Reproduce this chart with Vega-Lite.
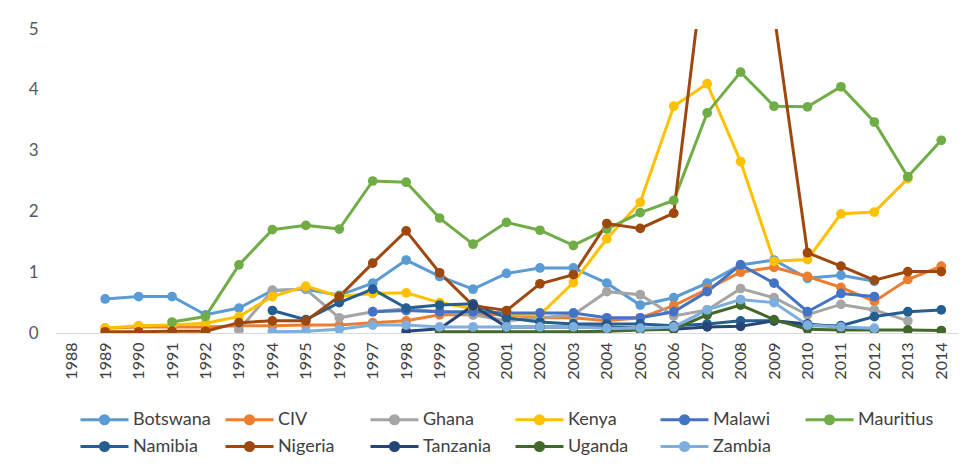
{
  "$schema": "https://vega.github.io/schema/vega-lite/v6.json",
  "width": 903,
  "height": 304,
  "autosize": {"type": "none"},
  "padding": {"left": 55, "top": 29, "right": 14, "bottom": 136},
  "background": "white",
  "config": {
    "view": {"stroke": null},
    "font": "Lato"
  },
  "data": {
    "values": [
      {"c":"Botswana","y":1989,"v":0.56},{"c":"Botswana","y":1990,"v":0.6},{"c":"Botswana","y":1991,"v":0.6},{"c":"Botswana","y":1992,"v":0.3},{"c":"Botswana","y":1993,"v":0.41},{"c":"Botswana","y":1994,"v":0.7},{"c":"Botswana","y":1995,"v":0.72},{"c":"Botswana","y":1996,"v":0.62},{"c":"Botswana","y":1997,"v":0.82},{"c":"Botswana","y":1998,"v":1.2},{"c":"Botswana","y":1999,"v":0.93},{"c":"Botswana","y":2000,"v":0.72},{"c":"Botswana","y":2001,"v":0.98},{"c":"Botswana","y":2002,"v":1.07},{"c":"Botswana","y":2003,"v":1.07},{"c":"Botswana","y":2004,"v":0.82},{"c":"Botswana","y":2005,"v":0.46},{"c":"Botswana","y":2006,"v":0.58},{"c":"Botswana","y":2007,"v":0.82},{"c":"Botswana","y":2008,"v":1.12},{"c":"Botswana","y":2009,"v":1.2},{"c":"Botswana","y":2010,"v":0.9},{"c":"Botswana","y":2011,"v":0.95},{"c":"Botswana","y":2012,"v":0.85},
      {"c":"CIV","y":1989,"v":0.08},{"c":"CIV","y":1990,"v":0.1},{"c":"CIV","y":1991,"v":0.1},{"c":"CIV","y":1992,"v":0.1},{"c":"CIV","y":1993,"v":0.12},{"c":"CIV","y":1994,"v":0.12},{"c":"CIV","y":1995,"v":0.13},{"c":"CIV","y":1996,"v":0.13},{"c":"CIV","y":1997,"v":0.17},{"c":"CIV","y":1998,"v":0.2},{"c":"CIV","y":1999,"v":0.3},{"c":"CIV","y":2000,"v":0.3},{"c":"CIV","y":2001,"v":0.3},{"c":"CIV","y":2002,"v":0.25},{"c":"CIV","y":2003,"v":0.25},{"c":"CIV","y":2004,"v":0.2},{"c":"CIV","y":2005,"v":0.25},{"c":"CIV","y":2006,"v":0.45},{"c":"CIV","y":2007,"v":0.72},{"c":"CIV","y":2008,"v":1.0},{"c":"CIV","y":2009,"v":1.08},{"c":"CIV","y":2010,"v":0.93},{"c":"CIV","y":2011,"v":0.75},{"c":"CIV","y":2012,"v":0.52},{"c":"CIV","y":2013,"v":0.88},{"c":"CIV","y":2014,"v":1.1},
      {"c":"Ghana","y":1993,"v":0.05},{"c":"Ghana","y":1994,"v":0.7},{"c":"Ghana","y":1995,"v":0.72},{"c":"Ghana","y":1996,"v":0.25},{"c":"Ghana","y":1997,"v":0.35},{"c":"Ghana","y":1998,"v":0.4},{"c":"Ghana","y":1999,"v":0.35},{"c":"Ghana","y":2000,"v":0.3},{"c":"Ghana","y":2001,"v":0.2},{"c":"Ghana","y":2002,"v":0.25},{"c":"Ghana","y":2003,"v":0.3},{"c":"Ghana","y":2004,"v":0.68},{"c":"Ghana","y":2005,"v":0.63},{"c":"Ghana","y":2006,"v":0.28},{"c":"Ghana","y":2007,"v":0.38},{"c":"Ghana","y":2008,"v":0.73},{"c":"Ghana","y":2009,"v":0.58},{"c":"Ghana","y":2010,"v":0.3},{"c":"Ghana","y":2011,"v":0.47},{"c":"Ghana","y":2012,"v":0.38},{"c":"Ghana","y":2013,"v":0.2},
      {"c":"Kenya","y":1989,"v":0.08},{"c":"Kenya","y":1990,"v":0.12},{"c":"Kenya","y":1991,"v":0.13},{"c":"Kenya","y":1992,"v":0.16},{"c":"Kenya","y":1993,"v":0.27},{"c":"Kenya","y":1994,"v":0.6},{"c":"Kenya","y":1995,"v":0.77},{"c":"Kenya","y":1996,"v":0.6},{"c":"Kenya","y":1997,"v":0.65},{"c":"Kenya","y":1998,"v":0.66},{"c":"Kenya","y":1999,"v":0.5},{"c":"Kenya","y":2000,"v":0.4},{"c":"Kenya","y":2001,"v":0.3},{"c":"Kenya","y":2002,"v":0.3},{"c":"Kenya","y":2003,"v":0.83},{"c":"Kenya","y":2004,"v":1.55},{"c":"Kenya","y":2005,"v":2.15},{"c":"Kenya","y":2006,"v":3.73},{"c":"Kenya","y":2007,"v":4.1},{"c":"Kenya","y":2008,"v":2.82},{"c":"Kenya","y":2009,"v":1.18},{"c":"Kenya","y":2010,"v":1.21},{"c":"Kenya","y":2011,"v":1.96},{"c":"Kenya","y":2012,"v":1.99},{"c":"Kenya","y":2013,"v":2.54},
      {"c":"Malawi","y":1997,"v":0.35},{"c":"Malawi","y":1998,"v":0.37},{"c":"Malawi","y":1999,"v":0.35},{"c":"Malawi","y":2000,"v":0.35},{"c":"Malawi","y":2001,"v":0.33},{"c":"Malawi","y":2002,"v":0.33},{"c":"Malawi","y":2003,"v":0.33},{"c":"Malawi","y":2004,"v":0.25},{"c":"Malawi","y":2005,"v":0.25},{"c":"Malawi","y":2006,"v":0.35},{"c":"Malawi","y":2007,"v":0.68},{"c":"Malawi","y":2008,"v":1.12},{"c":"Malawi","y":2009,"v":0.82},{"c":"Malawi","y":2010,"v":0.35},{"c":"Malawi","y":2011,"v":0.65},{"c":"Malawi","y":2012,"v":0.6},
      {"c":"Mauritius","y":1991,"v":0.18},{"c":"Mauritius","y":1992,"v":0.27},{"c":"Mauritius","y":1993,"v":1.12},{"c":"Mauritius","y":1994,"v":1.7},{"c":"Mauritius","y":1995,"v":1.77},{"c":"Mauritius","y":1996,"v":1.71},{"c":"Mauritius","y":1997,"v":2.5},{"c":"Mauritius","y":1998,"v":2.48},{"c":"Mauritius","y":1999,"v":1.89},{"c":"Mauritius","y":2000,"v":1.46},{"c":"Mauritius","y":2001,"v":1.82},{"c":"Mauritius","y":2002,"v":1.69},{"c":"Mauritius","y":2003,"v":1.44},{"c":"Mauritius","y":2004,"v":1.71},{"c":"Mauritius","y":2005,"v":1.98},{"c":"Mauritius","y":2006,"v":2.18},{"c":"Mauritius","y":2007,"v":3.62},{"c":"Mauritius","y":2008,"v":4.29},{"c":"Mauritius","y":2009,"v":3.73},{"c":"Mauritius","y":2010,"v":3.72},{"c":"Mauritius","y":2011,"v":4.05},{"c":"Mauritius","y":2012,"v":3.47},{"c":"Mauritius","y":2013,"v":2.57},{"c":"Mauritius","y":2014,"v":3.17},
      {"c":"Namibia","y":1994,"v":0.37},{"c":"Namibia","y":1995,"v":0.22},{"c":"Namibia","y":1996,"v":0.5},{"c":"Namibia","y":1997,"v":0.72},{"c":"Namibia","y":1998,"v":0.41},{"c":"Namibia","y":1999,"v":0.46},{"c":"Namibia","y":2000,"v":0.48},{"c":"Namibia","y":2001,"v":0.25},{"c":"Namibia","y":2002,"v":0.18},{"c":"Namibia","y":2003,"v":0.15},{"c":"Namibia","y":2004,"v":0.15},{"c":"Namibia","y":2005,"v":0.15},{"c":"Namibia","y":2006,"v":0.12},{"c":"Namibia","y":2007,"v":0.15},{"c":"Namibia","y":2008,"v":0.2},{"c":"Namibia","y":2009,"v":0.2},{"c":"Namibia","y":2010,"v":0.12},{"c":"Namibia","y":2011,"v":0.12},{"c":"Namibia","y":2012,"v":0.27},{"c":"Namibia","y":2013,"v":0.35},{"c":"Namibia","y":2014,"v":0.38},
      {"c":"Nigeria","y":1989,"v":0.02},{"c":"Nigeria","y":1990,"v":0.02},{"c":"Nigeria","y":1991,"v":0.03},{"c":"Nigeria","y":1992,"v":0.03},{"c":"Nigeria","y":1993,"v":0.17},{"c":"Nigeria","y":1994,"v":0.2},{"c":"Nigeria","y":1995,"v":0.2},{"c":"Nigeria","y":1996,"v":0.6},{"c":"Nigeria","y":1997,"v":1.15},{"c":"Nigeria","y":1998,"v":1.68},{"c":"Nigeria","y":1999,"v":0.99},{"c":"Nigeria","y":2000,"v":0.45},{"c":"Nigeria","y":2001,"v":0.37},{"c":"Nigeria","y":2002,"v":0.81},{"c":"Nigeria","y":2003,"v":0.96},{"c":"Nigeria","y":2004,"v":1.8},{"c":"Nigeria","y":2005,"v":1.72},{"c":"Nigeria","y":2006,"v":1.97},{"c":"Nigeria","y":2007,"v":6.5},{"c":"Nigeria","y":2008,"v":9.0},{"c":"Nigeria","y":2009,"v":5.25},{"c":"Nigeria","y":2010,"v":1.32},{"c":"Nigeria","y":2011,"v":1.1},{"c":"Nigeria","y":2012,"v":0.87},{"c":"Nigeria","y":2013,"v":1.01},{"c":"Nigeria","y":2014,"v":1.01},
      {"c":"Tanzania","y":1998,"v":0.03},{"c":"Tanzania","y":1999,"v":0.07},{"c":"Tanzania","y":2000,"v":0.45},{"c":"Tanzania","y":2001,"v":0.1},{"c":"Tanzania","y":2002,"v":0.1},{"c":"Tanzania","y":2003,"v":0.1},{"c":"Tanzania","y":2004,"v":0.1},{"c":"Tanzania","y":2005,"v":0.08},{"c":"Tanzania","y":2006,"v":0.06},{"c":"Tanzania","y":2007,"v":0.1},{"c":"Tanzania","y":2008,"v":0.11},{"c":"Tanzania","y":2009,"v":0.2},{"c":"Tanzania","y":2010,"v":0.15},{"c":"Tanzania","y":2011,"v":0.1},
      {"c":"Uganda","y":1999,"v":0.02},{"c":"Uganda","y":2000,"v":0.02},{"c":"Uganda","y":2001,"v":0.02},{"c":"Uganda","y":2002,"v":0.02},{"c":"Uganda","y":2003,"v":0.02},{"c":"Uganda","y":2004,"v":0.03},{"c":"Uganda","y":2005,"v":0.05},{"c":"Uganda","y":2006,"v":0.06},{"c":"Uganda","y":2007,"v":0.3},{"c":"Uganda","y":2008,"v":0.46},{"c":"Uganda","y":2009,"v":0.22},{"c":"Uganda","y":2010,"v":0.06},{"c":"Uganda","y":2011,"v":0.05},{"c":"Uganda","y":2012,"v":0.05},{"c":"Uganda","y":2013,"v":0.05},{"c":"Uganda","y":2014,"v":0.04},
      {"c":"Zambia","y":1994,"v":0.02},{"c":"Zambia","y":1995,"v":0.03},{"c":"Zambia","y":1996,"v":0.06},{"c":"Zambia","y":1997,"v":0.13},{"c":"Zambia","y":1998,"v":0.13},{"c":"Zambia","y":1999,"v":0.1},{"c":"Zambia","y":2000,"v":0.1},{"c":"Zambia","y":2001,"v":0.1},{"c":"Zambia","y":2002,"v":0.1},{"c":"Zambia","y":2003,"v":0.1},{"c":"Zambia","y":2004,"v":0.08},{"c":"Zambia","y":2005,"v":0.08},{"c":"Zambia","y":2006,"v":0.1},{"c":"Zambia","y":2007,"v":0.38},{"c":"Zambia","y":2008,"v":0.55},{"c":"Zambia","y":2009,"v":0.5},{"c":"Zambia","y":2010,"v":0.13},{"c":"Zambia","y":2011,"v":0.1},{"c":"Zambia","y":2012,"v":0.08}
    ]
  },
  "mark": {"type": "line", "strokeWidth": 3, "clip": true, "point": {"filled": true, "size": 95, "opacity": 1}},
  "encoding": {
    "x": {
      "field": "y", "type": "ordinal",
      "scale": {"type": "point", "padding": 0.5, "domain": [1988,1989,1990,1991,1992,1993,1994,1995,1996,1997,1998,1999,2000,2001,2002,2003,2004,2005,2006,2007,2008,2009,2010,2011,2012,2013,2014]},
      "axis": {"title": null, "labelAngle": -90, "labelFontSize": 16, "labelColor": "#404040", "ticks": false, "labelPadding": 9, "domainColor": "#d9d9d9", "domainWidth": 1, "grid": false}
    },
    "y": {
      "field": "v", "type": "quantitative",
      "scale": {"domain": [0, 5], "nice": false, "zero": true},
      "axis": {"title": null, "values": [0,1,2,3,4,5], "domain": false, "ticks": false, "grid": false, "labelFontSize": 17, "labelColor": "#595959", "labelPadding": 17}
    },
    "color": {
      "field": "c", "type": "nominal",
      "scale": {
        "domain": ["Botswana","CIV","Ghana","Kenya","Malawi","Mauritius","Namibia","Nigeria","Tanzania","Uganda","Zambia"],
        "range": ["#5B9BD5","#ED7D31","#A5A5A5","#FFC000","#4472C4","#70AD47","#255E91","#9E480E","#264478","#43682B","#7CAFDD"]
      },
      "legend": {
        "title": null,
        "orient": "none",
        "legendX": 48,
        "legendY": 377,
        "direction": "horizontal",
        "columns": 6,
        "gridAlign": "all",
        "columnPadding": 8,
        "rowPadding": 3,
        "labelFontSize": 18,
        "labelColor": "#404040",
        "labelOffset": 3,
        "symbolType": "M-3,0H1M-1.34,0A0.34,0.34,0,1,1,-0.66,0A0.34,0.34,0,1,1,-1.34,0Z",
        "symbolSize": 576,
        "symbolStrokeWidth": 3,
        "symbolOpacity": 1,
        "encode": {"symbols": {"update": {"fill": {"scale": "color", "field": "value"}, "stroke": {"scale": "color", "field": "value"}}}}
      }
    }
  }
}
